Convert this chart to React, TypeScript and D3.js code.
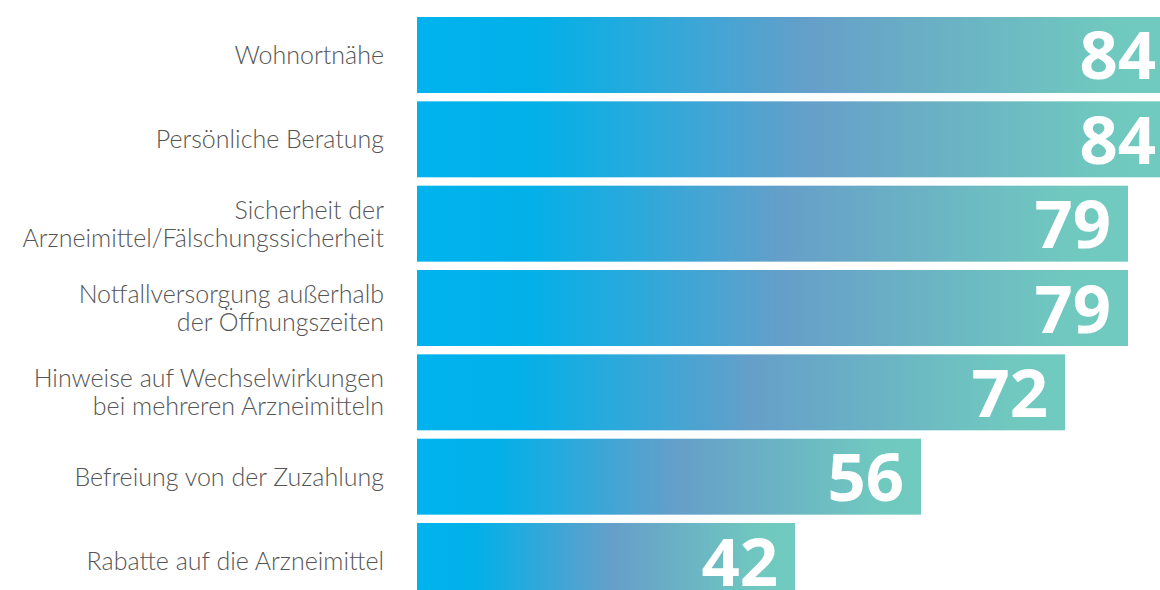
import React from "react";
import * as d3 from "d3";

const categories: string[][] = [
  ["Wohnortnähe"],
  ["Persönliche Beratung"],
  ["Sicherheit der", "Arzneimittel/Fälschungssicherheit"],
  ["Notfallversorgung außerhalb", "der Öffnungszeiten"],
  ["Hinweise auf Wechselwirkungen", "bei mehreren Arzneimitteln"],
  ["Befreiung von der Zuzahlung"],
  ["Rabatte auf die Arzneimittel"],
];
const values: number[] = [84, 84, 79, 79, 72, 56, 42];

const W = 1160;
const H = 590;

export default function App() {
  const x = d3.scaleLinear().domain([0, 84]).range([417, 1173]);
  const ids = categories.map((_, i) => String(i));
  const y = d3.scaleBand<string>().domain(ids).range([17, 599]).paddingInner(0.099).paddingOuter(0);
  const lineH = 28;
  return (
    <svg
      width={W}
      height={H}
      style={{ position: "absolute", left: 0, top: 0, display: "block", overflow: "hidden" }}
    >
      <defs>
        <linearGradient id="barGrad" x1="0" y1="0" x2="1" y2="0">
          <stop offset="0" stopColor="#00B3EE" />
          <stop offset="0.16" stopColor="#03B0E8" />
          <stop offset="0.52" stopColor="#669FC9" />
          <stop offset="0.92" stopColor="#70C9BF" />
          <stop offset="1" stopColor="#70CABF" />
        </linearGradient>
      </defs>
      <rect x={0} y={0} width={W} height={H} fill="#ffffff" />
      {values.map((v, i) => {
        const y0 = y(String(i))!;
        const bh = y.bandwidth();
        const cy = y0 + bh / 2;
        const lines = categories[i];
        const x1 = x(v);
        return (
          <g key={i}>
            <rect x={x(0)} y={y0} width={x1 - x(0)} height={bh} fill="url(#barGrad)" />
            <text
              x={x1 - 17}
              y={cy + 24.5}
              textAnchor="end"
              fill="#ffffff"
              fontFamily="'Open Sans', sans-serif"
              fontWeight={700}
              fontSize={67}
            >
              {v}
            </text>
            <text
              textAnchor="end"
              fill="#555555"
              fontFamily="Lato, sans-serif"
              fontSize={25}
              fontWeight={300}
            >
              {lines.map((l, k) => (
                <tspan key={k} x={384} y={cy + 9 + (k - (lines.length - 1) / 2) * lineH}>
                  {l}
                </tspan>
              ))}
            </text>
          </g>
        );
      })}
    </svg>
  );
}
